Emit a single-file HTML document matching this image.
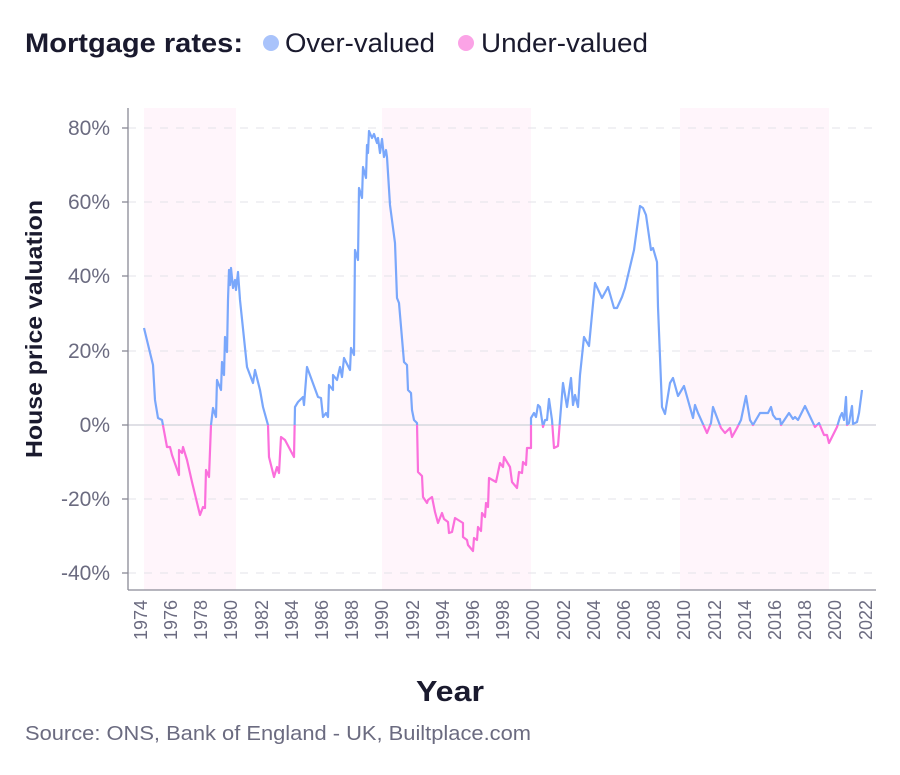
<!DOCTYPE html>
<html><head><meta charset="utf-8"><style>
body{margin:0;background:#fff;width:900px;height:770px;overflow:hidden;font-family:"Liberation Sans",sans-serif}
</style></head><body>
<svg width="900" height="770" viewBox="0 0 900 770" xmlns="http://www.w3.org/2000/svg" font-family="Liberation Sans, sans-serif">
<text x="25" y="52" font-size="27" font-weight="bold" fill="#1a1a2e" textLength="218" lengthAdjust="spacingAndGlyphs">Mortgage rates:</text>
<circle cx="271" cy="43" r="8" fill="#a9c3fb"/>
<text x="285" y="52" font-size="27" fill="#1a1a2e" textLength="150" lengthAdjust="spacingAndGlyphs">Over-valued</text>
<circle cx="466" cy="43" r="8" fill="#fba3e6"/>
<text x="481" y="52" font-size="27" fill="#1a1a2e" textLength="167" lengthAdjust="spacingAndGlyphs">Under-valued</text>

<rect x="144" y="108" width="92" height="482" fill="#fff5fb"/>
<rect x="382" y="108" width="149" height="482" fill="#fff5fb"/>
<rect x="680" y="108" width="149" height="482" fill="#fff5fb"/>

<g stroke="#e3e3ea" stroke-width="1" stroke-dasharray="8,8">
<line x1="128" x2="876" y1="128" y2="128"/><line x1="128" x2="876" y1="202" y2="202"/>
<line x1="128" x2="876" y1="276" y2="276"/><line x1="128" x2="876" y1="351" y2="351"/>
<line x1="128" x2="876" y1="499" y2="499"/><line x1="128" x2="876" y1="573" y2="573"/>
</g>
<line x1="128" x2="876" y1="425" y2="425" stroke="#e0e0e6" stroke-width="2"/>
<g stroke="#8a8a96" stroke-width="1.3">
<line x1="128" x2="128" y1="108" y2="590"/><line x1="128" x2="876" y1="590" y2="590"/>
<line x1="122" x2="128" y1="128" y2="128"/><line x1="122" x2="128" y1="202" y2="202"/><line x1="122" x2="128" y1="276" y2="276"/><line x1="122" x2="128" y1="351" y2="351"/><line x1="122" x2="128" y1="425" y2="425"/><line x1="122" x2="128" y1="499" y2="499"/><line x1="122" x2="128" y1="573" y2="573"/>
</g>
<g font-size="21" fill="#6b6b80" text-anchor="end">
<text x="110" y="135">80%</text><text x="110" y="209">60%</text><text x="110" y="283">40%</text><text x="110" y="358">20%</text><text x="110" y="432">0%</text><text x="110" y="506">-20%</text><text x="110" y="580">-40%</text>
</g>
<g font-size="18" fill="#6b6b80" text-anchor="end">
<text transform="translate(147,600) rotate(-90)">1974</text>
<text transform="translate(177,600) rotate(-90)">1976</text>
<text transform="translate(207,600) rotate(-90)">1978</text>
<text transform="translate(237,600) rotate(-90)">1980</text>
<text transform="translate(268,600) rotate(-90)">1982</text>
<text transform="translate(298,600) rotate(-90)">1984</text>
<text transform="translate(328,600) rotate(-90)">1986</text>
<text transform="translate(358,600) rotate(-90)">1988</text>
<text transform="translate(388,600) rotate(-90)">1990</text>
<text transform="translate(419,600) rotate(-90)">1992</text>
<text transform="translate(449,600) rotate(-90)">1994</text>
<text transform="translate(479,600) rotate(-90)">1996</text>
<text transform="translate(509,600) rotate(-90)">1998</text>
<text transform="translate(539,600) rotate(-90)">2000</text>
<text transform="translate(570,600) rotate(-90)">2002</text>
<text transform="translate(600,600) rotate(-90)">2004</text>
<text transform="translate(630,600) rotate(-90)">2006</text>
<text transform="translate(660,600) rotate(-90)">2008</text>
<text transform="translate(690,600) rotate(-90)">2010</text>
<text transform="translate(721,600) rotate(-90)">2012</text>
<text transform="translate(751,600) rotate(-90)">2014</text>
<text transform="translate(781,600) rotate(-90)">2016</text>
<text transform="translate(811,600) rotate(-90)">2018</text>
<text transform="translate(841,600) rotate(-90)">2020</text>
<text transform="translate(872,600) rotate(-90)">2022</text>
</g>
<text transform="translate(42,329) rotate(-90)" font-size="23" font-weight="bold" fill="#1a1a2e" text-anchor="middle" textLength="258" lengthAdjust="spacingAndGlyphs">House price valuation</text>
<text x="450" y="701" font-size="29" font-weight="bold" fill="#1a1a2e" text-anchor="middle" textLength="68" lengthAdjust="spacingAndGlyphs">Year</text>
<text x="25" y="740" font-size="20" fill="#6b6b80" textLength="506" lengthAdjust="spacingAndGlyphs">Source: ONS, Bank of England - UK, Builtplace.com</text>

<defs>
<clipPath id="top"><rect x="0" y="0" width="900" height="425"/></clipPath>
<clipPath id="bot"><rect x="0" y="425" width="900" height="300"/></clipPath>
<polyline id="s" fill="none" stroke-width="2.2" stroke-linejoin="round" points="144,328 153,365 155,400 158,418 162,420 167,447 170,447 172,455 179,475 179,450 182,453 183,447 187,460 192,482 200,515 203,507 205,508 206,470 209,477 211,425 213,408 216,417 217,380 221,390 222,362 224,375 225,337 227,352 228,300 229,270 230,285 231,268 233,288 235,280 236,290 238,272 240,300 247,367 253,383 255,370 260,390 263,407 268,425 269,457 274,477 277,467 279,473 281,437 285,440 294,457 295,407 298,402 300,400 303,397 304,405 307,367 318,397 321,398 323,417 326,413 328,417 329,385 333,390 333,375 337,380 340,367 342,377 344,358 350,370 351,348 354,355 355,250 358,260 359,188 362,198 363,167 366,178 367,145 368,153 369,131 372,138 374,134 377,143 378,138 380,153 382,139 384,157 386,150 387,157 390,205 395,243 397,298 399,303 404,362 407,365 408,390 411,393 412,410 414,420 417,423 418,472 422,476 423,497 427,503 428,500 432,497 435,512 438,523 442,513 444,519 448,522 449,533 452,532 455,518 463,523 463,537 467,540 468,545 473,551 474,538 477,540 478,527 481,531 482,513 485,517 486,503 488,507 489,478 496,482 500,463 503,467 504,457 510,467 512,482 517,488 519,472 522,473 523,462 526,465 527,448 531,448 531,418 534,413 536,417 538,405 540,407 543,427 545,420 547,420 549,399 552,420 554,448 558,446 560,420 563,383 567,407 571,378 573,405 575,395 578,407 580,375 584,337 589,346 595,283 602,298 608,287 614,308 617,308 622,297 625,288 634,250 640,206 643,208 646,215 651,250 653,248 657,262 658,307 662,407 665,414 670,383 673,378 678,396 684,386 693,418 695,405 698,413 707,433 711,423 713,407 721,428 725,433 730,428 732,437 737,428 741,420 746,396 750,420 753,425 760,413 768,413 771,407 773,415 776,419 780,419 781,425 789,413 793,419 795,417 798,420 805,406 815,427 819,423 824,435 827,435 829,443 837,427 840,417 842,413 844,420 846,397 847,425 849,423 852,406 853,424 857,422 859,413 862,390"/>
</defs>
<use href="#s" stroke="#7aa7fb" clip-path="url(#top)"/>
<use href="#s" stroke="#fb6fdc" clip-path="url(#bot)"/>
</svg>
</body></html>
